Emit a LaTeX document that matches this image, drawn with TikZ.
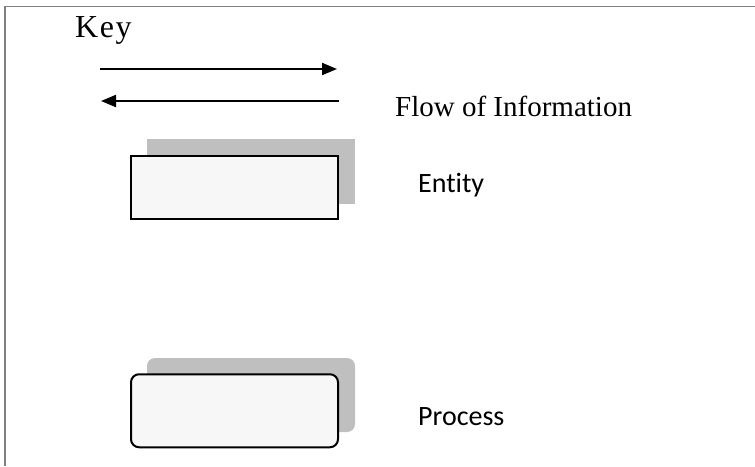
\documentclass[tikz,border=0pt]{standalone}
\usepackage{fontspec}
\setmainfont{Liberation Serif}
\newfontfamily\calfont[Ligatures=NoCommon]{Carlito}
\usetikzlibrary{arrows.meta}
\definecolor{boxfill}{HTML}{F7F7F7}
\definecolor{shadowgray}{HTML}{BFBFBF}
\definecolor{framegray}{HTML}{808080}
\tikzset{
  framebar/.style={draw=framegray, line width=1.8pt},
  flowarrow/.style={line width=2pt, -{Triangle[length=15pt,width=12pt]}},
  entitybox/.style={draw=black, line width=2pt, fill=boxfill, minimum width=207pt, minimum height=63pt, inner sep=0pt},
  entityshadow/.style={fill=shadowgray, minimum width=208pt, minimum height=65pt, inner sep=0pt},
  processbox/.style={draw=black, line width=2pt, fill=boxfill, rounded corners=8pt, minimum width=207pt, minimum height=73pt, inner sep=0pt},
  processshadow/.style={fill=shadowgray, rounded corners=8pt, minimum width=208pt, minimum height=74pt, inner sep=0pt},
  keylabel/.style={anchor=base west, inner sep=0pt, font=\fontsize{32}{32}\selectfont},
  flowlabel/.style={anchor=base west, inner sep=0pt, font=\fontsize{29}{29}\selectfont},
  calilabel/.style={anchor=base west, inner sep=0pt, font=\calfont\fontsize{28}{28}\selectfont},
}
\begin{document}
\begin{tikzpicture}[x=1pt, y=-1pt]
\useasboundingbox (0,0) rectangle (755,466);
% frame
\coordinate (ftl) at (4.7,6.5);
\coordinate (ftr) at (755,6.5);
\coordinate (fbl) at (4.7,466);
\draw[framebar] (fbl) -- (ftl) -- (ftr);
% key
\node[keylabel] (key) at (75,37) {\addfontfeatures{LetterSpace=5}Key};
% arrows
\coordinate (a1s) at (100,69);
\coordinate (a1e) at (337,69);
\coordinate (a2s) at (339,101);
\coordinate (a2e) at (101,101);
\draw[flowarrow] (a1s) -- (a1e);
\draw[flowarrow] (a2s) -- (a2e);
\node[flowlabel] (flow) at (395,116.5) {Flow of Information};
% entity
\node[entityshadow] (entsh) at (251,171.5) {};
\node[entitybox] (ent) at (234.5,187.5) {};
\node[calilabel] (entlbl) at (418,192.7) {Entity};
% process
\node[processshadow] (procsh) at (251,395) {};
\node[processbox] (proc) at (234.5,410.75) {};
\node[calilabel] (proclbl) at (418,425) {Process};
\end{tikzpicture}
\end{document}
